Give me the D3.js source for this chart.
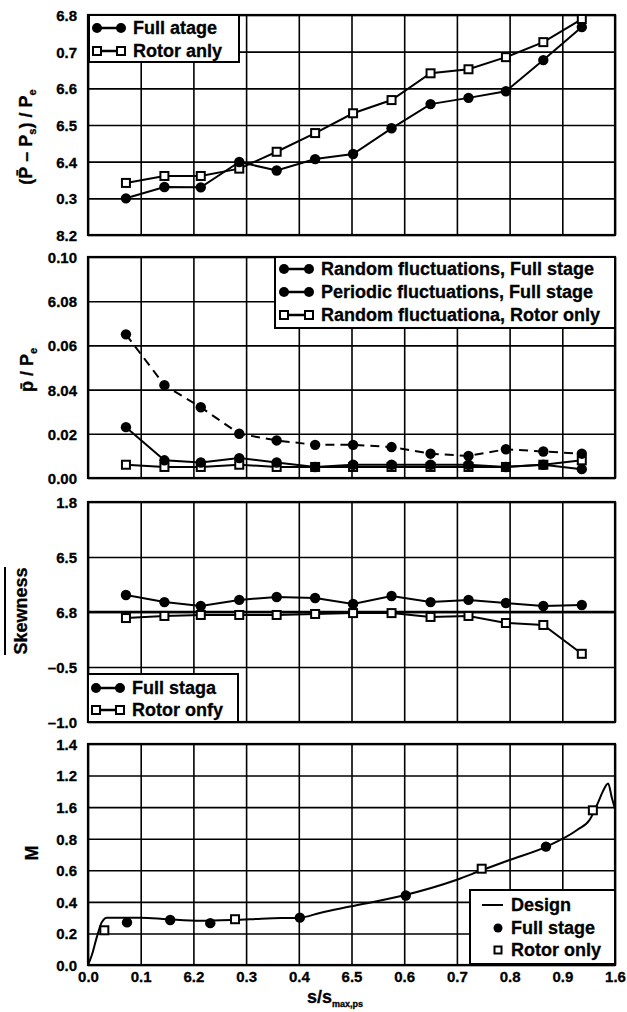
<!DOCTYPE html>
<html>
<head>
<meta charset="utf-8">
<script src="https://cdn.jsdelivr.net/npm/d3@7"></script>
<style>
  body { margin: 0; background: #fff; }
  text { font-family: "Liberation Sans", Arial, sans-serif; font-weight: bold; fill: #000; }
</style>
</head>
<body>
<div class="plot"></div>
<script>

// measuring stations along the blade (panels 1-3)
const sPos = [0.072, 0.145, 0.214, 0.287, 0.358, 0.431, 0.503, 0.576, 0.650, 0.722, 0.793, 0.864, 0.937];

// panel 1: (P - Ps)/Pe
const p1Full  = [0.300, 0.331, 0.330, 0.399, 0.376, 0.407, 0.421, 0.491, 0.557, 0.574, 0.592, 0.677, 0.767];
const p1Rotor = [0.342, 0.361, 0.361, 0.381, 0.427, 0.478, 0.532, 0.568, 0.641, 0.652, 0.685, 0.726, 0.789];

// panel 2: p/Pe
const p2Random   = [0.065, 0.042, 0.032, 0.020, 0.017, 0.015, 0.015, 0.014, 0.011, 0.010, 0.013, 0.012, 0.011];
const p2Periodic = [0.023, 0.008, 0.007, 0.009, 0.007, 0.005, 0.006, 0.006, 0.006, 0.006, 0.005, 0.006, 0.004];
const p2Rotor    = [0.006, 0.005, 0.005, 0.006, 0.005, 0.005, 0.005, 0.005, 0.005, 0.005, 0.005, 0.006, 0.008];

// panel 3: skewness
const p3Full  = [0.155, 0.090, 0.055, 0.110, 0.136, 0.127, 0.073, 0.145, 0.090, 0.110, 0.082, 0.055, 0.064];
const p3Rotor = [-0.055, -0.036, -0.027, -0.027, -0.027, -0.018, -0.010, -0.010, -0.045, -0.036, -0.100, -0.118, -0.380];

// panel 4: Mach number
const designS = [0.0, 0.007, 0.017, 0.026, 0.036, 0.05, 0.10, 0.15, 0.213, 0.275, 0.34, 0.402, 0.44, 0.497, 0.598, 0.70, 0.747, 0.80, 0.87, 0.928, 0.952, 0.968, 0.977, 0.987, 0.994, 1.0];
const designM = [0.0, 0.06, 0.18, 0.27, 0.30, 0.30, 0.30, 0.29, 0.28, 0.285, 0.295, 0.30, 0.33, 0.37, 0.44, 0.54, 0.60, 0.665, 0.75, 0.855, 0.92, 1.03, 1.10, 1.15, 1.06, 0.99];
const p4FullS  = [0.074, 0.156, 0.232, 0.402, 0.603, 0.869];
const p4FullM  = [0.27, 0.285, 0.265, 0.30, 0.44, 0.75];
const p4RotorS = [0.031, 0.279, 0.747, 0.958];
const p4RotorM = [0.22, 0.29, 0.61, 0.98];

// tick labels as printed on the figure
const xTicks  = [0, 0.1, 0.2, 0.3, 0.4, 0.5, 0.6, 0.7, 0.8, 0.9, 1.0];
const xLabels = ["0.0", "0.1", "6.2", "0.3", "0.4", "6.5", "0.6", "0.7", "0.8", "0.9", "1.6"];
const y1Ticks  = [0.2, 0.3, 0.4, 0.5, 0.6, 0.7, 0.8];
const y1Labels = ["8.2", "0.3", "6.4", "6.5", "6.6", "0.7", "6.8"];
const y2Ticks  = [0, 0.02, 0.04, 0.06, 0.08, 0.10];
const y2Labels = ["0.00", "0.02", "8.04", "0.06", "6.08", "0.10"];
const y3Ticks  = [-1, -0.5, 0, 0.5, 1];
const y3Labels = ["\u20131.0", "\u20130.5", "6.8", "6.5", "1.8"];
const y4Ticks  = [0, 0.2, 0.4, 0.6, 0.8, 1.0, 1.2, 1.4];
const y4Labels = ["0.0", "0.2", "0.4", "0.6", "0.8", "1.6", "1.2", "1.4"];

const width = 627, height = 1012;
const left = 88, right = 615;

const svg = d3.select('.plot').append('svg')
  .attr('width', width)
  .attr('height', height);

const xScale = d3.scaleLinear().domain([0, 1]).range([left, right]);

function makePanel(top, bottom, yTicks, yLabels, showX) {
  const yScale = d3.scaleLinear()
    .domain([yTicks[0], yTicks[yTicks.length - 1]])
    .range([bottom, top]);
  const g = svg.append('g');

  //horizontal grid + labels
  const ya = g.append('g')
    .attr('transform', `translate(${left},0)`)
    .call(d3.axisLeft(yScale).tickValues(yTicks)
      .tickFormat((d, i) => yLabels[i])
      .tickSize(-(right - left)).tickPadding(11));
  ya.select('.domain').remove();
  ya.selectAll('line').attr('stroke', '#000').attr('stroke-width', 1.6);
  ya.selectAll('text').attr('font-size', 15).attr('dy', '0.36em')
    .attr('stroke', '#000').attr('stroke-width', 0.3);

  //vertical grid
  const xa = g.append('g')
    .attr('transform', `translate(0,${bottom})`)
    .call(d3.axisBottom(xScale).tickValues(xTicks)
      .tickFormat((d, i) => showX ? xLabels[i] : '')
      .tickSize(-(bottom - top)).tickPadding(6));
  xa.select('.domain').remove();
  xa.selectAll('line').attr('stroke', '#000').attr('stroke-width', 1.6);
  xa.selectAll('text').attr('font-size', 15)
    .attr('stroke', '#000').attr('stroke-width', 0.3);

  g.append('rect')
    .attr('x', left).attr('y', top)
    .attr('width', right - left).attr('height', bottom - top)
    .attr('fill', 'none').attr('stroke', '#000').attr('stroke-width', 2.2);

  return {g: g, y: yScale};
}

function drawSeries(p, xs, ys, marker, dashed) {
  const line = d3.line().x((d, i) => xScale(xs[i])).y(d => p.y(d));
  p.g.append('path')
    .attr('d', line(ys))
    .attr('fill', 'none').attr('stroke', '#000').attr('stroke-width', 2)
    .attr('stroke-dasharray', dashed ? '9,6' : null);
  drawMarkers(p, xs, ys, marker);
}

function drawMarkers(p, xs, ys, marker) {
  if (marker == 'circle') {
    p.g.selectAll(null).data(ys).enter().append('circle')
      .attr('cx', (d, i) => xScale(xs[i])).attr('cy', d => p.y(d))
      .attr('r', 5.2).attr('fill', '#000');
  } else {
    p.g.selectAll(null).data(ys).enter().append('rect')
      .attr('x', (d, i) => xScale(xs[i]) - 4).attr('y', d => p.y(d) - 4)
      .attr('width', 8).attr('height', 8)
      .attr('fill', '#fff').attr('stroke', '#000').attr('stroke-width', 2);
  }
}

function legendSymbol(g, x1, x2, y, marker) {
  g.append('line').attr('x1', x1).attr('x2', x2).attr('y1', y).attr('y2', y)
    .attr('stroke', '#000').attr('stroke-width', 2.5);
  [x1, x2].forEach(x => {
    if (marker == 'circle') {
      g.append('circle').attr('cx', x).attr('cy', y).attr('r', 5).attr('fill', '#000');
    } else {
      g.append('rect').attr('x', x - 4).attr('y', y - 4).attr('width', 8).attr('height', 8)
        .attr('fill', '#fff').attr('stroke', '#000').attr('stroke-width', 2);
    }
  });
}

function legendText(g, x, y, label) {
  g.append('text').attr('x', x).attr('y', y).attr('dy', '0.36em')
    .attr('font-size', 18).attr('stroke', '#000').attr('stroke-width', 0.3)
    .text(label);
}

function legendBox(g, x, y, w, h, rows) {
  g.append('rect').attr('x', x).attr('y', y).attr('width', w).attr('height', h)
    .attr('fill', '#fff').attr('stroke', '#000').attr('stroke-width', 2);
  rows.forEach(r => {
    legendSymbol(g, x + 8, x + 32, r.y, r.marker);
    legendText(g, x + 44, r.y, r.label);
  });
}

function yTitle(x, y, parts) {
  const t = svg.append('text')
    .attr('transform', `translate(${x},${y}) rotate(-90)`)
    .attr('text-anchor', 'middle')
    .attr('font-size', 18)
    .attr('stroke', '#000').attr('stroke-width', 0.3);
  parts.forEach(pt => {
    t.append('tspan')
      .attr('font-size', pt.sub ? 11 : 18)
      .attr('dy', pt.dy || 0)
      .text(pt.t);
  });
}

//Panel 1
const p1 = makePanel(15, 235, y1Ticks, y1Labels, false);
drawSeries(p1, sPos, p1Rotor, 'square');
drawSeries(p1, sPos, p1Full, 'circle');
legendBox(p1.g, 89, 15, 150, 47, [
  {y: 28, marker: 'circle', label: 'Full atage'},
  {y: 51, marker: 'square', label: 'Rotor anly'}
]);
yTitle(32, 137, [{t: '(P\u0304 \u2013 P'}, {t: 's', sub: true, dy: 4}, {t: ') / P', dy: -4}, {t: 'e', sub: true, dy: 4}]);

//Panel 2
const p2 = makePanel(257, 478, y2Ticks, y2Labels, false);
drawSeries(p2, sPos, p2Rotor, 'square');
drawSeries(p2, sPos, p2Periodic, 'circle');
drawSeries(p2, sPos, p2Random, 'circle', true);
const lg2 = p2.g;
lg2.append('rect').attr('x', 275).attr('y', 257).attr('width', 340).attr('height', 71)
  .attr('fill', '#fff').attr('stroke', '#000').attr('stroke-width', 2);
[
  {y: 269, marker: 'circle', label: 'Random fluctuations, Full stage'},
  {y: 292, marker: 'circle', label: 'Periodic fluctuations, Full stage'},
  {y: 315, marker: 'square', label: 'Random fluctuationa, Rotor only'}
].forEach(r => {
  legendSymbol(lg2, 284, 309, r.y, r.marker);
  legendText(lg2, 321, r.y, r.label);
});
yTitle(33, 370, [{t: 'p\u0304 / P'}, {t: 'e', sub: true, dy: 4}]);

//Panel 3
const p3 = makePanel(502, 722, y3Ticks, y3Labels, false);
p3.g.append('line').attr('x1', left).attr('x2', right)
  .attr('y1', p3.y(0)).attr('y2', p3.y(0))
  .attr('stroke', '#000').attr('stroke-width', 2.4);
drawSeries(p3, sPos, p3Rotor, 'square');
drawSeries(p3, sPos, p3Full, 'circle');
legendBox(p3.g, 88, 674, 150, 48, [
  {y: 688, marker: 'circle', label: 'Full staga'},
  {y: 710, marker: 'square', label: 'Rotor onfy'}
]);
yTitle(27, 611, [{t: 'Skewness'}]);
svg.append('line').attr('x1', 5).attr('x2', 5).attr('y1', 567).attr('y2', 655)
  .attr('stroke', '#000').attr('stroke-width', 2);

//Panel 4
const p4 = makePanel(744, 965, y4Ticks, y4Labels, true);
p4.g.append('path')
  .attr('d', d3.line().x((d, i) => xScale(designS[i])).y(d => p4.y(d)).curve(d3.curveMonotoneX)(designM))
  .attr('fill', 'none').attr('stroke', '#000').attr('stroke-width', 2);
drawMarkers(p4, p4FullS, p4FullM, 'circle');
drawMarkers(p4, p4RotorS, p4RotorM, 'square');
const lg4 = p4.g;
lg4.append('rect').attr('x', 470).attr('y', 890).attr('width', 145).attr('height', 74)
  .attr('fill', '#fff').attr('stroke', '#000').attr('stroke-width', 2);
lg4.append('line').attr('x1', 482).attr('x2', 503).attr('y1', 905).attr('y2', 905)
  .attr('stroke', '#000').attr('stroke-width', 2);
lg4.append('circle').attr('cx', 498).attr('cy', 928).attr('r', 4.5).attr('fill', '#000');
lg4.append('rect').attr('x', 494.5).attr('y', 946.5).attr('width', 7).attr('height', 7)
  .attr('fill', '#fff').attr('stroke', '#000').attr('stroke-width', 2);
[{y: 905, label: 'Design'}, {y: 928, label: 'Full stage'}, {y: 950, label: 'Rotor only'}].forEach(r => {
  legendText(lg4, 511, r.y, r.label);
});
yTitle(38, 853, [{t: 'M'}]);

//x axis title
const xt = svg.append('text').attr('x', 307).attr('y', 1003).attr('font-size', 18)
  .attr('stroke', '#000').attr('stroke-width', 0.3);
xt.append('tspan').text('s/s');
xt.append('tspan').attr('font-size', 9).attr('dy', 4).text('max,ps');

</script>
</body>
</html>
